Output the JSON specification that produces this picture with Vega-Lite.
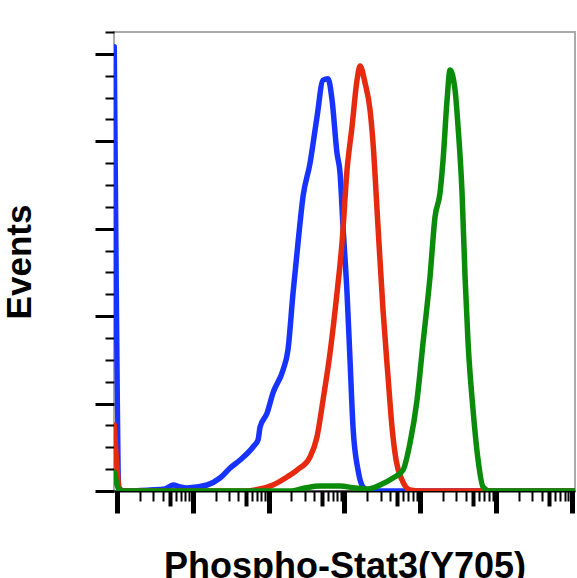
{
  "$schema": "https://vega.github.io/schema/vega-lite/v6.json",
  "autosize": {"type": "none"},
  "padding": {"left": 114, "top": 32, "right": 2, "bottom": 87},
  "width": 461,
  "height": 459,
  "background": "white",
  "config": {
    "view": {"stroke": "#aaaaaa", "strokeWidth": 2},
    "font": "Liberation Sans"
  },
  "data": {
    "values": [
      {"s": "control", "x": 0.92, "y": 101.6},
      {"s": "control", "x": 1.08, "y": 0.5},
      {"s": "control", "x": 1.275, "y": 0},
      {"s": "control", "x": 2.72, "y": 0.23},
      {"s": "control", "x": 4.3, "y": 0.46},
      {"s": "control", "x": 5.48, "y": 1.37},
      {"s": "control", "x": 6.78, "y": 0.92},
      {"s": "control", "x": 8.38, "y": 0.69},
      {"s": "control", "x": 15.4, "y": 1.37},
      {"s": "control", "x": 22.8, "y": 2.97},
      {"s": "control", "x": 31.0, "y": 5.26},
      {"s": "control", "x": 42.0, "y": 7.09},
      {"s": "control", "x": 62.3, "y": 10.07},
      {"s": "control", "x": 72.5, "y": 11.7},
      {"s": "control", "x": 77.1, "y": 14.6},
      {"s": "control", "x": 95.3, "y": 17.8},
      {"s": "control", "x": 114, "y": 22.4},
      {"s": "control", "x": 155, "y": 27.7},
      {"s": "control", "x": 180, "y": 32.3},
      {"s": "control", "x": 210, "y": 45.3},
      {"s": "control", "x": 244, "y": 56.7},
      {"s": "control", "x": 284, "y": 67.3},
      {"s": "control", "x": 352, "y": 75.0},
      {"s": "control", "x": 435, "y": 85.6},
      {"s": "control", "x": 522, "y": 94.0},
      {"s": "control", "x": 608, "y": 94.3},
      {"s": "control", "x": 686, "y": 89.5},
      {"s": "control", "x": 798, "y": 77.3},
      {"s": "control", "x": 875, "y": 72.8},
      {"s": "control", "x": 959, "y": 60.4},
      {"s": "control", "x": 1082, "y": 45.3},
      {"s": "control", "x": 1185, "y": 30.0},
      {"s": "control", "x": 1298, "y": 14.6},
      {"s": "control", "x": 1511, "y": 4.8},
      {"s": "control", "x": 1758, "y": 0.92},
      {"s": "control", "x": 2176, "y": 0},
      {"s": "control", "x": 1090000, "y": 0},

      {"s": "untreated", "x": 0.92, "y": 15.1},
      {"s": "untreated", "x": 1.1, "y": 0},
      {"s": "untreated", "x": 1.48, "y": 0},
      {"s": "untreated", "x": 48.9, "y": 0},
      {"s": "untreated", "x": 77, "y": 0.46},
      {"s": "untreated", "x": 114, "y": 1.37},
      {"s": "untreated", "x": 175, "y": 3.2},
      {"s": "untreated", "x": 237, "y": 4.8},
      {"s": "untreated", "x": 352, "y": 7.8},
      {"s": "untreated", "x": 435, "y": 12.4},
      {"s": "untreated", "x": 522, "y": 20.8},
      {"s": "untreated", "x": 646, "y": 31.6},
      {"s": "untreated", "x": 798, "y": 45.3},
      {"s": "untreated", "x": 929, "y": 56.7},
      {"s": "untreated", "x": 1082, "y": 73.4},
      {"s": "untreated", "x": 1259, "y": 83.3},
      {"s": "untreated", "x": 1466, "y": 94.0},
      {"s": "untreated", "x": 1607, "y": 97.2},
      {"s": "untreated", "x": 1872, "y": 93.3},
      {"s": "untreated", "x": 2176, "y": 87.2},
      {"s": "untreated", "x": 2384, "y": 79.6},
      {"s": "untreated", "x": 2775, "y": 60.4},
      {"s": "untreated", "x": 3230, "y": 41.4},
      {"s": "untreated", "x": 3760, "y": 26.1},
      {"s": "untreated", "x": 4246, "y": 14.6},
      {"s": "untreated", "x": 4797, "y": 7.1},
      {"s": "untreated", "x": 5755, "y": 2.5},
      {"s": "untreated", "x": 7335, "y": 0.23},
      {"s": "untreated", "x": 9940, "y": 0},
      {"s": "untreated", "x": 1090000, "y": 0},

      {"s": "treated", "x": 0.92, "y": 4.3},
      {"s": "treated", "x": 1.1, "y": 0},
      {"s": "treated", "x": 1.48, "y": 0},
      {"s": "treated", "x": 191, "y": 0},
      {"s": "treated", "x": 302, "y": 0.69},
      {"s": "treated", "x": 476, "y": 1.14},
      {"s": "treated", "x": 875, "y": 1.14},
      {"s": "treated", "x": 1380, "y": 0.69},
      {"s": "treated", "x": 2048, "y": 0.46},
      {"s": "treated", "x": 2950, "y": 1.37},
      {"s": "treated", "x": 4375, "y": 2.97},
      {"s": "treated", "x": 5930, "y": 4.8},
      {"s": "treated", "x": 7335, "y": 11.0},
      {"s": "treated", "x": 9070, "y": 20.8},
      {"s": "treated", "x": 10890, "y": 33.9},
      {"s": "treated", "x": 13460, "y": 49.0},
      {"s": "treated", "x": 15670, "y": 62.7},
      {"s": "treated", "x": 18240, "y": 68.2},
      {"s": "treated", "x": 20000, "y": 75.7},
      {"s": "treated", "x": 22590, "y": 89.5},
      {"s": "treated", "x": 24730, "y": 96.3},
      {"s": "treated", "x": 28800, "y": 91.7},
      {"s": "treated", "x": 31550, "y": 83.3},
      {"s": "treated", "x": 35600, "y": 68.2},
      {"s": "treated", "x": 39000, "y": 49.0},
      {"s": "treated", "x": 42760, "y": 33.9},
      {"s": "treated", "x": 49770, "y": 18.5},
      {"s": "treated", "x": 57940, "y": 7.1},
      {"s": "treated", "x": 67350, "y": 0.92},
      {"s": "treated", "x": 83400, "y": 0},
      {"s": "treated", "x": 1090000, "y": 0}
    ]
  },
  "encoding": {
    "x": {
      "field": "x",
      "type": "quantitative",
      "scale": {"type": "log", "domain": [0.913, 1100000], "nice": false, "zero": false},
      "axis": {
        "title": "Phospho-Stat3(Y705)",
        "titleFontSize": 36,
        "titleFontWeight": "bold",
        "titleColor": "black",
        "titleY": 86,
        "titleBaseline": "alphabetic",
        "labels": false,
        "grid": false,
        "domainColor": "black",
        "domainWidth": 2,
        "tickColor": "black",
        "values": [1, 2, 3, 4, 5, 6, 7, 8, 9,
                   10, 20, 30, 40, 50, 60, 70, 80, 90,
                   100, 200, 300, 400, 500, 600, 700, 800, 900,
                   1000, 2000, 3000, 4000, 5000, 6000, 7000, 8000, 9000,
                   10000, 20000, 30000, 40000, 50000, 60000, 70000, 80000, 90000,
                   100000, 200000, 300000, 400000, 500000, 600000, 700000, 800000, 900000,
                   1000000],
        "tickSize": {
          "condition": [
            {"test": "indexof([1,10,100,1000,10000,100000,1000000], datum.value) >= 0", "value": 22},
            {"test": "indexof([5,50,500,5000,50000,500000], datum.value) >= 0", "value": 15}
          ],
          "value": 10
        },
        "tickWidth": {
          "condition": [
            {"test": "indexof([1,10,100,1000,10000,100000,1000000], datum.value) >= 0", "value": 5},
            {"test": "indexof([5,50,500,5000,50000,500000], datum.value) >= 0", "value": 4}
          ],
          "value": 2
        }
      }
    },
    "y": {
      "field": "y",
      "type": "quantitative",
      "scale": {"domain": [0, 105], "nice": false},
      "axis": {
        "title": "Events",
        "titleFontSize": 35,
        "titleFontWeight": "bold",
        "titleColor": "black",
        "titleX": -84,
        "titleBaseline": "alphabetic",
        "labels": false,
        "grid": false,
        "domain": false,
        "tickColor": "black",
        "values": [0, 5, 10, 15, 20, 25, 30, 35, 40, 45, 50, 55, 60, 65, 70, 75, 80, 85, 90, 95, 100, 105],
        "tickSize": {"condition": {"test": "datum.value % 20 == 0", "value": 19}, "value": 9},
        "tickWidth": {"condition": {"test": "datum.value % 20 == 0", "value": 3}, "value": 2}
      }
    }
  },
  "layer": [
    {
      "transform": [{"filter": "datum.s == 'control'"}],
      "mark": {"type": "line", "color": "#1733ff", "strokeWidth": 5.5, "interpolate": "monotone", "strokeJoin": "round", "strokeCap": "round", "clip": true}
    },
    {
      "transform": [{"filter": "datum.s == 'untreated'"}],
      "mark": {"type": "line", "color": "#e62a10", "strokeWidth": 5.5, "interpolate": "monotone", "strokeJoin": "round", "strokeCap": "round", "clip": true}
    },
    {
      "transform": [{"filter": "datum.s == 'treated'"}],
      "mark": {"type": "line", "color": "#0a8c0a", "strokeWidth": 5.5, "interpolate": "monotone", "strokeJoin": "round", "strokeCap": "round", "clip": true}
    }
  ]
}
